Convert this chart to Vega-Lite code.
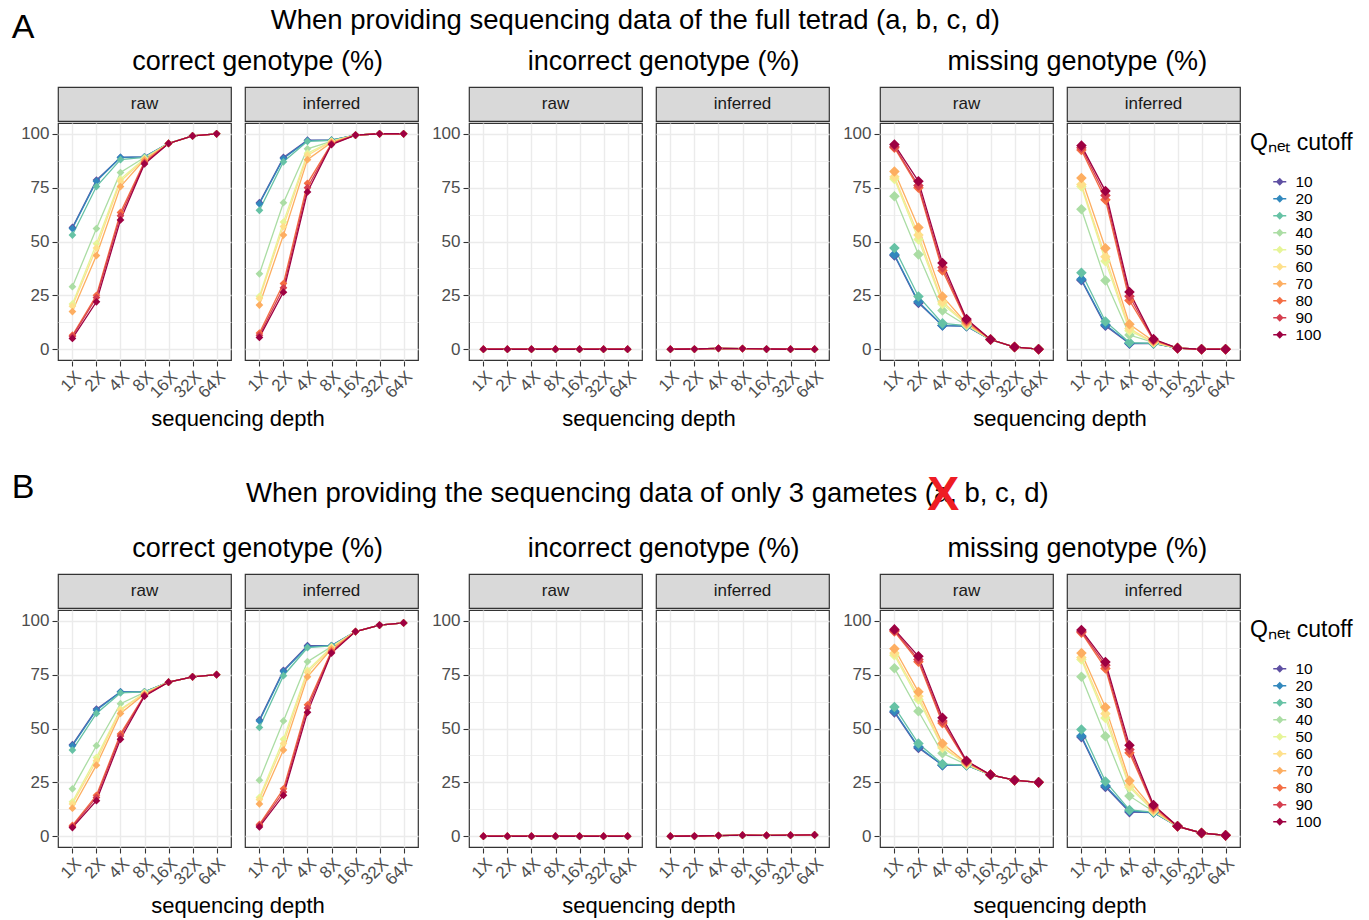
{"$schema":"https://vega.github.io/schema/vega-lite/v6.json","background":"white","padding":{"left":11,"top":6,"right":2,"bottom":2},"spacing":40,
"resolve":{"scale":{"color":"independent","stroke":"independent"},"legend":{"color":"independent","stroke":"independent"}},
"config":{"font":"Liberation Sans","view":{"stroke":null},"title":{"fontWeight":"normal","color":"#000000","font":"Liberation Sans"},"axis":{"labelColor":"#4D4D4D","labelFontSize":17,"tickColor":"#333333","tickWidth":1.1,"tickSize":5,"domain":false,"gridColor":"#EBEBEB","labelOverlap":false,"labelBound":false,"labelFlush":false},"legend":{"titleFontWeight":"normal"}},
"datasets":{"pts":[
{"p":"Acr","q":10,"d":1,"v":56.5},{"p":"Acr","q":10,"d":2,"v":78.5},{"p":"Acr","q":10,"d":4,"v":89},{"p":"Acr","q":10,"d":8,"v":89.3},{"p":"Acr","q":10,"d":16,"v":95.5},{"p":"Acr","q":10,"d":32,"v":99},{"p":"Acr","q":10,"d":64,"v":100},
{"p":"Acr","q":20,"d":1,"v":56},{"p":"Acr","q":20,"d":2,"v":78},{"p":"Acr","q":20,"d":4,"v":89},{"p":"Acr","q":20,"d":8,"v":89.3},{"p":"Acr","q":20,"d":16,"v":95.5},{"p":"Acr","q":20,"d":32,"v":99},{"p":"Acr","q":20,"d":64,"v":100},
{"p":"Acr","q":30,"d":1,"v":53},{"p":"Acr","q":30,"d":2,"v":75.5},{"p":"Acr","q":30,"d":4,"v":88},{"p":"Acr","q":30,"d":8,"v":89},{"p":"Acr","q":30,"d":16,"v":95.5},{"p":"Acr","q":30,"d":32,"v":99},{"p":"Acr","q":30,"d":64,"v":100},
{"p":"Acr","q":40,"d":1,"v":29},{"p":"Acr","q":40,"d":2,"v":56},{"p":"Acr","q":40,"d":4,"v":82},{"p":"Acr","q":40,"d":8,"v":89},{"p":"Acr","q":40,"d":16,"v":95.5},{"p":"Acr","q":40,"d":32,"v":99},{"p":"Acr","q":40,"d":64,"v":100},
{"p":"Acr","q":50,"d":1,"v":21},{"p":"Acr","q":50,"d":2,"v":49},{"p":"Acr","q":50,"d":4,"v":79},{"p":"Acr","q":50,"d":8,"v":88.5},{"p":"Acr","q":50,"d":16,"v":95.5},{"p":"Acr","q":50,"d":32,"v":99},{"p":"Acr","q":50,"d":64,"v":100},
{"p":"Acr","q":60,"d":1,"v":20},{"p":"Acr","q":60,"d":2,"v":47},{"p":"Acr","q":60,"d":4,"v":78},{"p":"Acr","q":60,"d":8,"v":88},{"p":"Acr","q":60,"d":16,"v":95.5},{"p":"Acr","q":60,"d":32,"v":99},{"p":"Acr","q":60,"d":64,"v":100},
{"p":"Acr","q":70,"d":1,"v":17.5},{"p":"Acr","q":70,"d":2,"v":43.5},{"p":"Acr","q":70,"d":4,"v":75.5},{"p":"Acr","q":70,"d":8,"v":88},{"p":"Acr","q":70,"d":16,"v":95.5},{"p":"Acr","q":70,"d":32,"v":99},{"p":"Acr","q":70,"d":64,"v":100},
{"p":"Acr","q":80,"d":1,"v":6.5},{"p":"Acr","q":80,"d":2,"v":25},{"p":"Acr","q":80,"d":4,"v":63.5},{"p":"Acr","q":80,"d":8,"v":87},{"p":"Acr","q":80,"d":16,"v":95.5},{"p":"Acr","q":80,"d":32,"v":99},{"p":"Acr","q":80,"d":64,"v":100},
{"p":"Acr","q":90,"d":1,"v":6},{"p":"Acr","q":90,"d":2,"v":24},{"p":"Acr","q":90,"d":4,"v":62},{"p":"Acr","q":90,"d":8,"v":86.5},{"p":"Acr","q":90,"d":16,"v":95.5},{"p":"Acr","q":90,"d":32,"v":99},{"p":"Acr","q":90,"d":64,"v":100},
{"p":"Acr","q":100,"d":1,"v":5},{"p":"Acr","q":100,"d":2,"v":22},{"p":"Acr","q":100,"d":4,"v":60},{"p":"Acr","q":100,"d":8,"v":86},{"p":"Acr","q":100,"d":16,"v":95.5},{"p":"Acr","q":100,"d":32,"v":99},{"p":"Acr","q":100,"d":64,"v":100},
{"p":"Aci","q":10,"d":1,"v":68},{"p":"Aci","q":10,"d":2,"v":89},{"p":"Aci","q":10,"d":4,"v":97},{"p":"Aci","q":10,"d":8,"v":97},{"p":"Aci","q":10,"d":16,"v":99.4},{"p":"Aci","q":10,"d":32,"v":100},{"p":"Aci","q":10,"d":64,"v":100},
{"p":"Aci","q":20,"d":1,"v":67.5},{"p":"Aci","q":20,"d":2,"v":88.5},{"p":"Aci","q":20,"d":4,"v":96.8},{"p":"Aci","q":20,"d":8,"v":97},{"p":"Aci","q":20,"d":16,"v":99.4},{"p":"Aci","q":20,"d":32,"v":100},{"p":"Aci","q":20,"d":64,"v":100},
{"p":"Aci","q":30,"d":1,"v":64.5},{"p":"Aci","q":30,"d":2,"v":87},{"p":"Aci","q":30,"d":4,"v":96.5},{"p":"Aci","q":30,"d":8,"v":97},{"p":"Aci","q":30,"d":16,"v":99.4},{"p":"Aci","q":30,"d":32,"v":100},{"p":"Aci","q":30,"d":64,"v":100},
{"p":"Aci","q":40,"d":1,"v":35},{"p":"Aci","q":40,"d":2,"v":68},{"p":"Aci","q":40,"d":4,"v":93},{"p":"Aci","q":40,"d":8,"v":96.5},{"p":"Aci","q":40,"d":16,"v":99.4},{"p":"Aci","q":40,"d":32,"v":100},{"p":"Aci","q":40,"d":64,"v":100},
{"p":"Aci","q":50,"d":1,"v":24.5},{"p":"Aci","q":50,"d":2,"v":59},{"p":"Aci","q":50,"d":4,"v":91},{"p":"Aci","q":50,"d":8,"v":96.5},{"p":"Aci","q":50,"d":16,"v":99.4},{"p":"Aci","q":50,"d":32,"v":100},{"p":"Aci","q":50,"d":64,"v":100},
{"p":"Aci","q":60,"d":1,"v":23.5},{"p":"Aci","q":60,"d":2,"v":57},{"p":"Aci","q":60,"d":4,"v":90},{"p":"Aci","q":60,"d":8,"v":96.5},{"p":"Aci","q":60,"d":16,"v":99.4},{"p":"Aci","q":60,"d":32,"v":100},{"p":"Aci","q":60,"d":64,"v":100},
{"p":"Aci","q":70,"d":1,"v":20.5},{"p":"Aci","q":70,"d":2,"v":53},{"p":"Aci","q":70,"d":4,"v":88},{"p":"Aci","q":70,"d":8,"v":96},{"p":"Aci","q":70,"d":16,"v":99.4},{"p":"Aci","q":70,"d":32,"v":100},{"p":"Aci","q":70,"d":64,"v":100},
{"p":"Aci","q":80,"d":1,"v":7.5},{"p":"Aci","q":80,"d":2,"v":30.5},{"p":"Aci","q":80,"d":4,"v":77},{"p":"Aci","q":80,"d":8,"v":95.5},{"p":"Aci","q":80,"d":16,"v":99.4},{"p":"Aci","q":80,"d":32,"v":100},{"p":"Aci","q":80,"d":64,"v":100},
{"p":"Aci","q":90,"d":1,"v":6.5},{"p":"Aci","q":90,"d":2,"v":28.5},{"p":"Aci","q":90,"d":4,"v":75},{"p":"Aci","q":90,"d":8,"v":95.3},{"p":"Aci","q":90,"d":16,"v":99.4},{"p":"Aci","q":90,"d":32,"v":100},{"p":"Aci","q":90,"d":64,"v":100},
{"p":"Aci","q":100,"d":1,"v":5.5},{"p":"Aci","q":100,"d":2,"v":26.5},{"p":"Aci","q":100,"d":4,"v":73},{"p":"Aci","q":100,"d":8,"v":95},{"p":"Aci","q":100,"d":16,"v":99.4},{"p":"Aci","q":100,"d":32,"v":100},{"p":"Aci","q":100,"d":64,"v":100},
{"p":"Air","q":10,"d":1,"v":0},{"p":"Air","q":10,"d":2,"v":0},{"p":"Air","q":10,"d":4,"v":0},{"p":"Air","q":10,"d":8,"v":0},{"p":"Air","q":10,"d":16,"v":0},{"p":"Air","q":10,"d":32,"v":0},{"p":"Air","q":10,"d":64,"v":0},
{"p":"Air","q":20,"d":1,"v":0},{"p":"Air","q":20,"d":2,"v":0},{"p":"Air","q":20,"d":4,"v":0},{"p":"Air","q":20,"d":8,"v":0},{"p":"Air","q":20,"d":16,"v":0},{"p":"Air","q":20,"d":32,"v":0},{"p":"Air","q":20,"d":64,"v":0},
{"p":"Air","q":30,"d":1,"v":0},{"p":"Air","q":30,"d":2,"v":0},{"p":"Air","q":30,"d":4,"v":0},{"p":"Air","q":30,"d":8,"v":0},{"p":"Air","q":30,"d":16,"v":0},{"p":"Air","q":30,"d":32,"v":0},{"p":"Air","q":30,"d":64,"v":0},
{"p":"Air","q":40,"d":1,"v":0},{"p":"Air","q":40,"d":2,"v":0},{"p":"Air","q":40,"d":4,"v":0},{"p":"Air","q":40,"d":8,"v":0},{"p":"Air","q":40,"d":16,"v":0},{"p":"Air","q":40,"d":32,"v":0},{"p":"Air","q":40,"d":64,"v":0},
{"p":"Air","q":50,"d":1,"v":0},{"p":"Air","q":50,"d":2,"v":0},{"p":"Air","q":50,"d":4,"v":0},{"p":"Air","q":50,"d":8,"v":0},{"p":"Air","q":50,"d":16,"v":0},{"p":"Air","q":50,"d":32,"v":0},{"p":"Air","q":50,"d":64,"v":0},
{"p":"Air","q":60,"d":1,"v":0},{"p":"Air","q":60,"d":2,"v":0},{"p":"Air","q":60,"d":4,"v":0},{"p":"Air","q":60,"d":8,"v":0},{"p":"Air","q":60,"d":16,"v":0},{"p":"Air","q":60,"d":32,"v":0},{"p":"Air","q":60,"d":64,"v":0},
{"p":"Air","q":70,"d":1,"v":0},{"p":"Air","q":70,"d":2,"v":0},{"p":"Air","q":70,"d":4,"v":0},{"p":"Air","q":70,"d":8,"v":0},{"p":"Air","q":70,"d":16,"v":0},{"p":"Air","q":70,"d":32,"v":0},{"p":"Air","q":70,"d":64,"v":0},
{"p":"Air","q":80,"d":1,"v":0},{"p":"Air","q":80,"d":2,"v":0},{"p":"Air","q":80,"d":4,"v":0},{"p":"Air","q":80,"d":8,"v":0},{"p":"Air","q":80,"d":16,"v":0},{"p":"Air","q":80,"d":32,"v":0},{"p":"Air","q":80,"d":64,"v":0},
{"p":"Air","q":90,"d":1,"v":0},{"p":"Air","q":90,"d":2,"v":0},{"p":"Air","q":90,"d":4,"v":0},{"p":"Air","q":90,"d":8,"v":0},{"p":"Air","q":90,"d":16,"v":0},{"p":"Air","q":90,"d":32,"v":0},{"p":"Air","q":90,"d":64,"v":0},
{"p":"Air","q":100,"d":1,"v":0},{"p":"Air","q":100,"d":2,"v":0},{"p":"Air","q":100,"d":4,"v":0},{"p":"Air","q":100,"d":8,"v":0},{"p":"Air","q":100,"d":16,"v":0},{"p":"Air","q":100,"d":32,"v":0},{"p":"Air","q":100,"d":64,"v":0},
{"p":"Aii","q":10,"d":1,"v":0},{"p":"Aii","q":10,"d":2,"v":0.1},{"p":"Aii","q":10,"d":4,"v":0.4},{"p":"Aii","q":10,"d":8,"v":0.3},{"p":"Aii","q":10,"d":16,"v":0.1},{"p":"Aii","q":10,"d":32,"v":0},{"p":"Aii","q":10,"d":64,"v":0},
{"p":"Aii","q":20,"d":1,"v":0},{"p":"Aii","q":20,"d":2,"v":0.1},{"p":"Aii","q":20,"d":4,"v":0.4},{"p":"Aii","q":20,"d":8,"v":0.3},{"p":"Aii","q":20,"d":16,"v":0.1},{"p":"Aii","q":20,"d":32,"v":0},{"p":"Aii","q":20,"d":64,"v":0},
{"p":"Aii","q":30,"d":1,"v":0},{"p":"Aii","q":30,"d":2,"v":0.1},{"p":"Aii","q":30,"d":4,"v":0.4},{"p":"Aii","q":30,"d":8,"v":0.3},{"p":"Aii","q":30,"d":16,"v":0.1},{"p":"Aii","q":30,"d":32,"v":0},{"p":"Aii","q":30,"d":64,"v":0},
{"p":"Aii","q":40,"d":1,"v":0},{"p":"Aii","q":40,"d":2,"v":0.1},{"p":"Aii","q":40,"d":4,"v":0.4},{"p":"Aii","q":40,"d":8,"v":0.3},{"p":"Aii","q":40,"d":16,"v":0.1},{"p":"Aii","q":40,"d":32,"v":0},{"p":"Aii","q":40,"d":64,"v":0},
{"p":"Aii","q":50,"d":1,"v":0},{"p":"Aii","q":50,"d":2,"v":0.1},{"p":"Aii","q":50,"d":4,"v":0.4},{"p":"Aii","q":50,"d":8,"v":0.3},{"p":"Aii","q":50,"d":16,"v":0.1},{"p":"Aii","q":50,"d":32,"v":0},{"p":"Aii","q":50,"d":64,"v":0},
{"p":"Aii","q":60,"d":1,"v":0},{"p":"Aii","q":60,"d":2,"v":0.1},{"p":"Aii","q":60,"d":4,"v":0.4},{"p":"Aii","q":60,"d":8,"v":0.3},{"p":"Aii","q":60,"d":16,"v":0.1},{"p":"Aii","q":60,"d":32,"v":0},{"p":"Aii","q":60,"d":64,"v":0},
{"p":"Aii","q":70,"d":1,"v":0},{"p":"Aii","q":70,"d":2,"v":0.1},{"p":"Aii","q":70,"d":4,"v":0.4},{"p":"Aii","q":70,"d":8,"v":0.3},{"p":"Aii","q":70,"d":16,"v":0.1},{"p":"Aii","q":70,"d":32,"v":0},{"p":"Aii","q":70,"d":64,"v":0},
{"p":"Aii","q":80,"d":1,"v":0},{"p":"Aii","q":80,"d":2,"v":0.1},{"p":"Aii","q":80,"d":4,"v":0.4},{"p":"Aii","q":80,"d":8,"v":0.3},{"p":"Aii","q":80,"d":16,"v":0.1},{"p":"Aii","q":80,"d":32,"v":0},{"p":"Aii","q":80,"d":64,"v":0},
{"p":"Aii","q":90,"d":1,"v":0},{"p":"Aii","q":90,"d":2,"v":0.1},{"p":"Aii","q":90,"d":4,"v":0.4},{"p":"Aii","q":90,"d":8,"v":0.3},{"p":"Aii","q":90,"d":16,"v":0.1},{"p":"Aii","q":90,"d":32,"v":0},{"p":"Aii","q":90,"d":64,"v":0},
{"p":"Aii","q":100,"d":1,"v":0},{"p":"Aii","q":100,"d":2,"v":0.1},{"p":"Aii","q":100,"d":4,"v":0.4},{"p":"Aii","q":100,"d":8,"v":0.3},{"p":"Aii","q":100,"d":16,"v":0.1},{"p":"Aii","q":100,"d":32,"v":0},{"p":"Aii","q":100,"d":64,"v":0},
{"p":"Amr","q":10,"d":1,"v":43.5},{"p":"Amr","q":10,"d":2,"v":21.5},{"p":"Amr","q":10,"d":4,"v":11},{"p":"Amr","q":10,"d":8,"v":10.7},{"p":"Amr","q":10,"d":16,"v":4.5},{"p":"Amr","q":10,"d":32,"v":1},{"p":"Amr","q":10,"d":64,"v":0},
{"p":"Amr","q":20,"d":1,"v":44},{"p":"Amr","q":20,"d":2,"v":22},{"p":"Amr","q":20,"d":4,"v":11},{"p":"Amr","q":20,"d":8,"v":10.7},{"p":"Amr","q":20,"d":16,"v":4.5},{"p":"Amr","q":20,"d":32,"v":1},{"p":"Amr","q":20,"d":64,"v":0},
{"p":"Amr","q":30,"d":1,"v":47},{"p":"Amr","q":30,"d":2,"v":24.5},{"p":"Amr","q":30,"d":4,"v":12},{"p":"Amr","q":30,"d":8,"v":11},{"p":"Amr","q":30,"d":16,"v":4.5},{"p":"Amr","q":30,"d":32,"v":1},{"p":"Amr","q":30,"d":64,"v":0},
{"p":"Amr","q":40,"d":1,"v":71},{"p":"Amr","q":40,"d":2,"v":44},{"p":"Amr","q":40,"d":4,"v":18},{"p":"Amr","q":40,"d":8,"v":11},{"p":"Amr","q":40,"d":16,"v":4.5},{"p":"Amr","q":40,"d":32,"v":1},{"p":"Amr","q":40,"d":64,"v":0},
{"p":"Amr","q":50,"d":1,"v":79},{"p":"Amr","q":50,"d":2,"v":51},{"p":"Amr","q":50,"d":4,"v":21},{"p":"Amr","q":50,"d":8,"v":11.5},{"p":"Amr","q":50,"d":16,"v":4.5},{"p":"Amr","q":50,"d":32,"v":1},{"p":"Amr","q":50,"d":64,"v":0},
{"p":"Amr","q":60,"d":1,"v":80},{"p":"Amr","q":60,"d":2,"v":53},{"p":"Amr","q":60,"d":4,"v":22},{"p":"Amr","q":60,"d":8,"v":12},{"p":"Amr","q":60,"d":16,"v":4.5},{"p":"Amr","q":60,"d":32,"v":1},{"p":"Amr","q":60,"d":64,"v":0},
{"p":"Amr","q":70,"d":1,"v":82.5},{"p":"Amr","q":70,"d":2,"v":56.5},{"p":"Amr","q":70,"d":4,"v":24.5},{"p":"Amr","q":70,"d":8,"v":12},{"p":"Amr","q":70,"d":16,"v":4.5},{"p":"Amr","q":70,"d":32,"v":1},{"p":"Amr","q":70,"d":64,"v":0},
{"p":"Amr","q":80,"d":1,"v":93.5},{"p":"Amr","q":80,"d":2,"v":75},{"p":"Amr","q":80,"d":4,"v":36.5},{"p":"Amr","q":80,"d":8,"v":13},{"p":"Amr","q":80,"d":16,"v":4.5},{"p":"Amr","q":80,"d":32,"v":1},{"p":"Amr","q":80,"d":64,"v":0},
{"p":"Amr","q":90,"d":1,"v":94},{"p":"Amr","q":90,"d":2,"v":76},{"p":"Amr","q":90,"d":4,"v":38},{"p":"Amr","q":90,"d":8,"v":13.5},{"p":"Amr","q":90,"d":16,"v":4.5},{"p":"Amr","q":90,"d":32,"v":1},{"p":"Amr","q":90,"d":64,"v":0},
{"p":"Amr","q":100,"d":1,"v":95},{"p":"Amr","q":100,"d":2,"v":78},{"p":"Amr","q":100,"d":4,"v":40},{"p":"Amr","q":100,"d":8,"v":14},{"p":"Amr","q":100,"d":16,"v":4.5},{"p":"Amr","q":100,"d":32,"v":1},{"p":"Amr","q":100,"d":64,"v":0},
{"p":"Ami","q":10,"d":1,"v":32},{"p":"Ami","q":10,"d":2,"v":10.9},{"p":"Ami","q":10,"d":4,"v":2.6},{"p":"Ami","q":10,"d":8,"v":2.7},{"p":"Ami","q":10,"d":16,"v":0.5},{"p":"Ami","q":10,"d":32,"v":0},{"p":"Ami","q":10,"d":64,"v":0},
{"p":"Ami","q":20,"d":1,"v":32.5},{"p":"Ami","q":20,"d":2,"v":11.4},{"p":"Ami","q":20,"d":4,"v":2.8},{"p":"Ami","q":20,"d":8,"v":2.7},{"p":"Ami","q":20,"d":16,"v":0.5},{"p":"Ami","q":20,"d":32,"v":0},{"p":"Ami","q":20,"d":64,"v":0},
{"p":"Ami","q":30,"d":1,"v":35.5},{"p":"Ami","q":30,"d":2,"v":12.9},{"p":"Ami","q":30,"d":4,"v":3.1},{"p":"Ami","q":30,"d":8,"v":2.7},{"p":"Ami","q":30,"d":16,"v":0.5},{"p":"Ami","q":30,"d":32,"v":0},{"p":"Ami","q":30,"d":64,"v":0},
{"p":"Ami","q":40,"d":1,"v":65},{"p":"Ami","q":40,"d":2,"v":31.9},{"p":"Ami","q":40,"d":4,"v":6.6},{"p":"Ami","q":40,"d":8,"v":3.2},{"p":"Ami","q":40,"d":16,"v":0.5},{"p":"Ami","q":40,"d":32,"v":0},{"p":"Ami","q":40,"d":64,"v":0},
{"p":"Ami","q":50,"d":1,"v":75.5},{"p":"Ami","q":50,"d":2,"v":40.9},{"p":"Ami","q":50,"d":4,"v":8.6},{"p":"Ami","q":50,"d":8,"v":3.2},{"p":"Ami","q":50,"d":16,"v":0.5},{"p":"Ami","q":50,"d":32,"v":0},{"p":"Ami","q":50,"d":64,"v":0},
{"p":"Ami","q":60,"d":1,"v":76.5},{"p":"Ami","q":60,"d":2,"v":42.9},{"p":"Ami","q":60,"d":4,"v":9.6},{"p":"Ami","q":60,"d":8,"v":3.2},{"p":"Ami","q":60,"d":16,"v":0.5},{"p":"Ami","q":60,"d":32,"v":0},{"p":"Ami","q":60,"d":64,"v":0},
{"p":"Ami","q":70,"d":1,"v":79.5},{"p":"Ami","q":70,"d":2,"v":46.9},{"p":"Ami","q":70,"d":4,"v":11.6},{"p":"Ami","q":70,"d":8,"v":3.7},{"p":"Ami","q":70,"d":16,"v":0.5},{"p":"Ami","q":70,"d":32,"v":0},{"p":"Ami","q":70,"d":64,"v":0},
{"p":"Ami","q":80,"d":1,"v":92.5},{"p":"Ami","q":80,"d":2,"v":69.4},{"p":"Ami","q":80,"d":4,"v":22.6},{"p":"Ami","q":80,"d":8,"v":4.2},{"p":"Ami","q":80,"d":16,"v":0.5},{"p":"Ami","q":80,"d":32,"v":0},{"p":"Ami","q":80,"d":64,"v":0},
{"p":"Ami","q":90,"d":1,"v":93.5},{"p":"Ami","q":90,"d":2,"v":71.4},{"p":"Ami","q":90,"d":4,"v":24.6},{"p":"Ami","q":90,"d":8,"v":4.4},{"p":"Ami","q":90,"d":16,"v":0.5},{"p":"Ami","q":90,"d":32,"v":0},{"p":"Ami","q":90,"d":64,"v":0},
{"p":"Ami","q":100,"d":1,"v":94.5},{"p":"Ami","q":100,"d":2,"v":73.4},{"p":"Ami","q":100,"d":4,"v":26.6},{"p":"Ami","q":100,"d":8,"v":4.7},{"p":"Ami","q":100,"d":16,"v":0.5},{"p":"Ami","q":100,"d":32,"v":0},{"p":"Ami","q":100,"d":64,"v":0},
{"p":"Bcr","q":10,"d":1,"v":42.5},{"p":"Bcr","q":10,"d":2,"v":59},{"p":"Bcr","q":10,"d":4,"v":67},{"p":"Bcr","q":10,"d":8,"v":67},{"p":"Bcr","q":10,"d":16,"v":71.5},{"p":"Bcr","q":10,"d":32,"v":74},{"p":"Bcr","q":10,"d":64,"v":75},
{"p":"Bcr","q":20,"d":1,"v":42},{"p":"Bcr","q":20,"d":2,"v":58.5},{"p":"Bcr","q":20,"d":4,"v":67},{"p":"Bcr","q":20,"d":8,"v":67},{"p":"Bcr","q":20,"d":16,"v":71.5},{"p":"Bcr","q":20,"d":32,"v":74},{"p":"Bcr","q":20,"d":64,"v":75},
{"p":"Bcr","q":30,"d":1,"v":40},{"p":"Bcr","q":30,"d":2,"v":57},{"p":"Bcr","q":30,"d":4,"v":66.5},{"p":"Bcr","q":30,"d":8,"v":67},{"p":"Bcr","q":30,"d":16,"v":71.5},{"p":"Bcr","q":30,"d":32,"v":74},{"p":"Bcr","q":30,"d":64,"v":75},
{"p":"Bcr","q":40,"d":1,"v":22},{"p":"Bcr","q":40,"d":2,"v":42},{"p":"Bcr","q":40,"d":4,"v":61.5},{"p":"Bcr","q":40,"d":8,"v":66.8},{"p":"Bcr","q":40,"d":16,"v":71.5},{"p":"Bcr","q":40,"d":32,"v":74},{"p":"Bcr","q":40,"d":64,"v":75},
{"p":"Bcr","q":50,"d":1,"v":16},{"p":"Bcr","q":50,"d":2,"v":36.5},{"p":"Bcr","q":50,"d":4,"v":59},{"p":"Bcr","q":50,"d":8,"v":66.5},{"p":"Bcr","q":50,"d":16,"v":71.5},{"p":"Bcr","q":50,"d":32,"v":74},{"p":"Bcr","q":50,"d":64,"v":75},
{"p":"Bcr","q":60,"d":1,"v":15},{"p":"Bcr","q":60,"d":2,"v":35},{"p":"Bcr","q":60,"d":4,"v":58.5},{"p":"Bcr","q":60,"d":8,"v":66.3},{"p":"Bcr","q":60,"d":16,"v":71.5},{"p":"Bcr","q":60,"d":32,"v":74},{"p":"Bcr","q":60,"d":64,"v":75},
{"p":"Bcr","q":70,"d":1,"v":13},{"p":"Bcr","q":70,"d":2,"v":33},{"p":"Bcr","q":70,"d":4,"v":57},{"p":"Bcr","q":70,"d":8,"v":66},{"p":"Bcr","q":70,"d":16,"v":71.5},{"p":"Bcr","q":70,"d":32,"v":74},{"p":"Bcr","q":70,"d":64,"v":75},
{"p":"Bcr","q":80,"d":1,"v":5},{"p":"Bcr","q":80,"d":2,"v":19},{"p":"Bcr","q":80,"d":4,"v":47.5},{"p":"Bcr","q":80,"d":8,"v":65.5},{"p":"Bcr","q":80,"d":16,"v":71.5},{"p":"Bcr","q":80,"d":32,"v":74},{"p":"Bcr","q":80,"d":64,"v":75},
{"p":"Bcr","q":90,"d":1,"v":4.5},{"p":"Bcr","q":90,"d":2,"v":18},{"p":"Bcr","q":90,"d":4,"v":46.5},{"p":"Bcr","q":90,"d":8,"v":65.3},{"p":"Bcr","q":90,"d":16,"v":71.5},{"p":"Bcr","q":90,"d":32,"v":74},{"p":"Bcr","q":90,"d":64,"v":75},
{"p":"Bcr","q":100,"d":1,"v":4},{"p":"Bcr","q":100,"d":2,"v":16.5},{"p":"Bcr","q":100,"d":4,"v":45},{"p":"Bcr","q":100,"d":8,"v":65},{"p":"Bcr","q":100,"d":16,"v":71.5},{"p":"Bcr","q":100,"d":32,"v":74},{"p":"Bcr","q":100,"d":64,"v":75},
{"p":"Bci","q":10,"d":1,"v":54},{"p":"Bci","q":10,"d":2,"v":77},{"p":"Bci","q":10,"d":4,"v":88.5},{"p":"Bci","q":10,"d":8,"v":88.5},{"p":"Bci","q":10,"d":16,"v":95},{"p":"Bci","q":10,"d":32,"v":98},{"p":"Bci","q":10,"d":64,"v":99},
{"p":"Bci","q":20,"d":1,"v":53.5},{"p":"Bci","q":20,"d":2,"v":76.5},{"p":"Bci","q":20,"d":4,"v":88},{"p":"Bci","q":20,"d":8,"v":88.5},{"p":"Bci","q":20,"d":16,"v":95},{"p":"Bci","q":20,"d":32,"v":98},{"p":"Bci","q":20,"d":64,"v":99},
{"p":"Bci","q":30,"d":1,"v":50.5},{"p":"Bci","q":30,"d":2,"v":74.5},{"p":"Bci","q":30,"d":4,"v":87.5},{"p":"Bci","q":30,"d":8,"v":88.3},{"p":"Bci","q":30,"d":16,"v":95},{"p":"Bci","q":30,"d":32,"v":98},{"p":"Bci","q":30,"d":64,"v":99},
{"p":"Bci","q":40,"d":1,"v":26},{"p":"Bci","q":40,"d":2,"v":53.5},{"p":"Bci","q":40,"d":4,"v":81},{"p":"Bci","q":40,"d":8,"v":88},{"p":"Bci","q":40,"d":16,"v":95},{"p":"Bci","q":40,"d":32,"v":98},{"p":"Bci","q":40,"d":64,"v":99},
{"p":"Bci","q":50,"d":1,"v":18},{"p":"Bci","q":50,"d":2,"v":45},{"p":"Bci","q":50,"d":4,"v":77},{"p":"Bci","q":50,"d":8,"v":87.8},{"p":"Bci","q":50,"d":16,"v":95},{"p":"Bci","q":50,"d":32,"v":98},{"p":"Bci","q":50,"d":64,"v":99},
{"p":"Bci","q":60,"d":1,"v":17},{"p":"Bci","q":60,"d":2,"v":43},{"p":"Bci","q":60,"d":4,"v":76},{"p":"Bci","q":60,"d":8,"v":87.5},{"p":"Bci","q":60,"d":16,"v":95},{"p":"Bci","q":60,"d":32,"v":98},{"p":"Bci","q":60,"d":64,"v":99},
{"p":"Bci","q":70,"d":1,"v":15},{"p":"Bci","q":70,"d":2,"v":40},{"p":"Bci","q":70,"d":4,"v":74},{"p":"Bci","q":70,"d":8,"v":87},{"p":"Bci","q":70,"d":16,"v":95},{"p":"Bci","q":70,"d":32,"v":98},{"p":"Bci","q":70,"d":64,"v":99},
{"p":"Bci","q":80,"d":1,"v":5.5},{"p":"Bci","q":80,"d":2,"v":22},{"p":"Bci","q":80,"d":4,"v":61},{"p":"Bci","q":80,"d":8,"v":86},{"p":"Bci","q":80,"d":16,"v":95},{"p":"Bci","q":80,"d":32,"v":98},{"p":"Bci","q":80,"d":64,"v":99},
{"p":"Bci","q":90,"d":1,"v":5},{"p":"Bci","q":90,"d":2,"v":20.5},{"p":"Bci","q":90,"d":4,"v":59.5},{"p":"Bci","q":90,"d":8,"v":85.5},{"p":"Bci","q":90,"d":16,"v":95},{"p":"Bci","q":90,"d":32,"v":98},{"p":"Bci","q":90,"d":64,"v":99},
{"p":"Bci","q":100,"d":1,"v":4.3},{"p":"Bci","q":100,"d":2,"v":19},{"p":"Bci","q":100,"d":4,"v":57.5},{"p":"Bci","q":100,"d":8,"v":85},{"p":"Bci","q":100,"d":16,"v":95},{"p":"Bci","q":100,"d":32,"v":98},{"p":"Bci","q":100,"d":64,"v":99},
{"p":"Bir","q":10,"d":1,"v":0},{"p":"Bir","q":10,"d":2,"v":0},{"p":"Bir","q":10,"d":4,"v":0},{"p":"Bir","q":10,"d":8,"v":0},{"p":"Bir","q":10,"d":16,"v":0},{"p":"Bir","q":10,"d":32,"v":0},{"p":"Bir","q":10,"d":64,"v":0},
{"p":"Bir","q":20,"d":1,"v":0},{"p":"Bir","q":20,"d":2,"v":0},{"p":"Bir","q":20,"d":4,"v":0},{"p":"Bir","q":20,"d":8,"v":0},{"p":"Bir","q":20,"d":16,"v":0},{"p":"Bir","q":20,"d":32,"v":0},{"p":"Bir","q":20,"d":64,"v":0},
{"p":"Bir","q":30,"d":1,"v":0},{"p":"Bir","q":30,"d":2,"v":0},{"p":"Bir","q":30,"d":4,"v":0},{"p":"Bir","q":30,"d":8,"v":0},{"p":"Bir","q":30,"d":16,"v":0},{"p":"Bir","q":30,"d":32,"v":0},{"p":"Bir","q":30,"d":64,"v":0},
{"p":"Bir","q":40,"d":1,"v":0},{"p":"Bir","q":40,"d":2,"v":0},{"p":"Bir","q":40,"d":4,"v":0},{"p":"Bir","q":40,"d":8,"v":0},{"p":"Bir","q":40,"d":16,"v":0},{"p":"Bir","q":40,"d":32,"v":0},{"p":"Bir","q":40,"d":64,"v":0},
{"p":"Bir","q":50,"d":1,"v":0},{"p":"Bir","q":50,"d":2,"v":0},{"p":"Bir","q":50,"d":4,"v":0},{"p":"Bir","q":50,"d":8,"v":0},{"p":"Bir","q":50,"d":16,"v":0},{"p":"Bir","q":50,"d":32,"v":0},{"p":"Bir","q":50,"d":64,"v":0},
{"p":"Bir","q":60,"d":1,"v":0},{"p":"Bir","q":60,"d":2,"v":0},{"p":"Bir","q":60,"d":4,"v":0},{"p":"Bir","q":60,"d":8,"v":0},{"p":"Bir","q":60,"d":16,"v":0},{"p":"Bir","q":60,"d":32,"v":0},{"p":"Bir","q":60,"d":64,"v":0},
{"p":"Bir","q":70,"d":1,"v":0},{"p":"Bir","q":70,"d":2,"v":0},{"p":"Bir","q":70,"d":4,"v":0},{"p":"Bir","q":70,"d":8,"v":0},{"p":"Bir","q":70,"d":16,"v":0},{"p":"Bir","q":70,"d":32,"v":0},{"p":"Bir","q":70,"d":64,"v":0},
{"p":"Bir","q":80,"d":1,"v":0},{"p":"Bir","q":80,"d":2,"v":0},{"p":"Bir","q":80,"d":4,"v":0},{"p":"Bir","q":80,"d":8,"v":0},{"p":"Bir","q":80,"d":16,"v":0},{"p":"Bir","q":80,"d":32,"v":0},{"p":"Bir","q":80,"d":64,"v":0},
{"p":"Bir","q":90,"d":1,"v":0},{"p":"Bir","q":90,"d":2,"v":0},{"p":"Bir","q":90,"d":4,"v":0},{"p":"Bir","q":90,"d":8,"v":0},{"p":"Bir","q":90,"d":16,"v":0},{"p":"Bir","q":90,"d":32,"v":0},{"p":"Bir","q":90,"d":64,"v":0},
{"p":"Bir","q":100,"d":1,"v":0},{"p":"Bir","q":100,"d":2,"v":0},{"p":"Bir","q":100,"d":4,"v":0},{"p":"Bir","q":100,"d":8,"v":0},{"p":"Bir","q":100,"d":16,"v":0},{"p":"Bir","q":100,"d":32,"v":0},{"p":"Bir","q":100,"d":64,"v":0},
{"p":"Bii","q":10,"d":1,"v":0},{"p":"Bii","q":10,"d":2,"v":0.1},{"p":"Bii","q":10,"d":4,"v":0.3},{"p":"Bii","q":10,"d":8,"v":0.5},{"p":"Bii","q":10,"d":16,"v":0.4},{"p":"Bii","q":10,"d":32,"v":0.5},{"p":"Bii","q":10,"d":64,"v":0.6},
{"p":"Bii","q":20,"d":1,"v":0},{"p":"Bii","q":20,"d":2,"v":0.1},{"p":"Bii","q":20,"d":4,"v":0.3},{"p":"Bii","q":20,"d":8,"v":0.5},{"p":"Bii","q":20,"d":16,"v":0.4},{"p":"Bii","q":20,"d":32,"v":0.5},{"p":"Bii","q":20,"d":64,"v":0.6},
{"p":"Bii","q":30,"d":1,"v":0},{"p":"Bii","q":30,"d":2,"v":0.1},{"p":"Bii","q":30,"d":4,"v":0.3},{"p":"Bii","q":30,"d":8,"v":0.5},{"p":"Bii","q":30,"d":16,"v":0.4},{"p":"Bii","q":30,"d":32,"v":0.5},{"p":"Bii","q":30,"d":64,"v":0.6},
{"p":"Bii","q":40,"d":1,"v":0},{"p":"Bii","q":40,"d":2,"v":0.1},{"p":"Bii","q":40,"d":4,"v":0.3},{"p":"Bii","q":40,"d":8,"v":0.5},{"p":"Bii","q":40,"d":16,"v":0.4},{"p":"Bii","q":40,"d":32,"v":0.5},{"p":"Bii","q":40,"d":64,"v":0.6},
{"p":"Bii","q":50,"d":1,"v":0},{"p":"Bii","q":50,"d":2,"v":0.1},{"p":"Bii","q":50,"d":4,"v":0.3},{"p":"Bii","q":50,"d":8,"v":0.5},{"p":"Bii","q":50,"d":16,"v":0.4},{"p":"Bii","q":50,"d":32,"v":0.5},{"p":"Bii","q":50,"d":64,"v":0.6},
{"p":"Bii","q":60,"d":1,"v":0},{"p":"Bii","q":60,"d":2,"v":0.1},{"p":"Bii","q":60,"d":4,"v":0.3},{"p":"Bii","q":60,"d":8,"v":0.5},{"p":"Bii","q":60,"d":16,"v":0.4},{"p":"Bii","q":60,"d":32,"v":0.5},{"p":"Bii","q":60,"d":64,"v":0.6},
{"p":"Bii","q":70,"d":1,"v":0},{"p":"Bii","q":70,"d":2,"v":0.1},{"p":"Bii","q":70,"d":4,"v":0.3},{"p":"Bii","q":70,"d":8,"v":0.5},{"p":"Bii","q":70,"d":16,"v":0.4},{"p":"Bii","q":70,"d":32,"v":0.5},{"p":"Bii","q":70,"d":64,"v":0.6},
{"p":"Bii","q":80,"d":1,"v":0},{"p":"Bii","q":80,"d":2,"v":0.1},{"p":"Bii","q":80,"d":4,"v":0.3},{"p":"Bii","q":80,"d":8,"v":0.5},{"p":"Bii","q":80,"d":16,"v":0.4},{"p":"Bii","q":80,"d":32,"v":0.5},{"p":"Bii","q":80,"d":64,"v":0.6},
{"p":"Bii","q":90,"d":1,"v":0},{"p":"Bii","q":90,"d":2,"v":0.1},{"p":"Bii","q":90,"d":4,"v":0.3},{"p":"Bii","q":90,"d":8,"v":0.5},{"p":"Bii","q":90,"d":16,"v":0.4},{"p":"Bii","q":90,"d":32,"v":0.5},{"p":"Bii","q":90,"d":64,"v":0.6},
{"p":"Bii","q":100,"d":1,"v":0},{"p":"Bii","q":100,"d":2,"v":0.1},{"p":"Bii","q":100,"d":4,"v":0.3},{"p":"Bii","q":100,"d":8,"v":0.5},{"p":"Bii","q":100,"d":16,"v":0.4},{"p":"Bii","q":100,"d":32,"v":0.5},{"p":"Bii","q":100,"d":64,"v":0.6},
{"p":"Bmr","q":10,"d":1,"v":57.5},{"p":"Bmr","q":10,"d":2,"v":41},{"p":"Bmr","q":10,"d":4,"v":33},{"p":"Bmr","q":10,"d":8,"v":33},{"p":"Bmr","q":10,"d":16,"v":28.5},{"p":"Bmr","q":10,"d":32,"v":26},{"p":"Bmr","q":10,"d":64,"v":25},
{"p":"Bmr","q":20,"d":1,"v":58},{"p":"Bmr","q":20,"d":2,"v":41.5},{"p":"Bmr","q":20,"d":4,"v":33},{"p":"Bmr","q":20,"d":8,"v":33},{"p":"Bmr","q":20,"d":16,"v":28.5},{"p":"Bmr","q":20,"d":32,"v":26},{"p":"Bmr","q":20,"d":64,"v":25},
{"p":"Bmr","q":30,"d":1,"v":60},{"p":"Bmr","q":30,"d":2,"v":43},{"p":"Bmr","q":30,"d":4,"v":33.5},{"p":"Bmr","q":30,"d":8,"v":33},{"p":"Bmr","q":30,"d":16,"v":28.5},{"p":"Bmr","q":30,"d":32,"v":26},{"p":"Bmr","q":30,"d":64,"v":25},
{"p":"Bmr","q":40,"d":1,"v":78},{"p":"Bmr","q":40,"d":2,"v":58},{"p":"Bmr","q":40,"d":4,"v":38.5},{"p":"Bmr","q":40,"d":8,"v":33.2},{"p":"Bmr","q":40,"d":16,"v":28.5},{"p":"Bmr","q":40,"d":32,"v":26},{"p":"Bmr","q":40,"d":64,"v":25},
{"p":"Bmr","q":50,"d":1,"v":84},{"p":"Bmr","q":50,"d":2,"v":63.5},{"p":"Bmr","q":50,"d":4,"v":41},{"p":"Bmr","q":50,"d":8,"v":33.5},{"p":"Bmr","q":50,"d":16,"v":28.5},{"p":"Bmr","q":50,"d":32,"v":26},{"p":"Bmr","q":50,"d":64,"v":25},
{"p":"Bmr","q":60,"d":1,"v":85},{"p":"Bmr","q":60,"d":2,"v":65},{"p":"Bmr","q":60,"d":4,"v":41.5},{"p":"Bmr","q":60,"d":8,"v":33.7},{"p":"Bmr","q":60,"d":16,"v":28.5},{"p":"Bmr","q":60,"d":32,"v":26},{"p":"Bmr","q":60,"d":64,"v":25},
{"p":"Bmr","q":70,"d":1,"v":87},{"p":"Bmr","q":70,"d":2,"v":67},{"p":"Bmr","q":70,"d":4,"v":43},{"p":"Bmr","q":70,"d":8,"v":34},{"p":"Bmr","q":70,"d":16,"v":28.5},{"p":"Bmr","q":70,"d":32,"v":26},{"p":"Bmr","q":70,"d":64,"v":25},
{"p":"Bmr","q":80,"d":1,"v":95},{"p":"Bmr","q":80,"d":2,"v":81},{"p":"Bmr","q":80,"d":4,"v":52.5},{"p":"Bmr","q":80,"d":8,"v":34.5},{"p":"Bmr","q":80,"d":16,"v":28.5},{"p":"Bmr","q":80,"d":32,"v":26},{"p":"Bmr","q":80,"d":64,"v":25},
{"p":"Bmr","q":90,"d":1,"v":95.5},{"p":"Bmr","q":90,"d":2,"v":82},{"p":"Bmr","q":90,"d":4,"v":53.5},{"p":"Bmr","q":90,"d":8,"v":34.7},{"p":"Bmr","q":90,"d":16,"v":28.5},{"p":"Bmr","q":90,"d":32,"v":26},{"p":"Bmr","q":90,"d":64,"v":25},
{"p":"Bmr","q":100,"d":1,"v":96},{"p":"Bmr","q":100,"d":2,"v":83.5},{"p":"Bmr","q":100,"d":4,"v":55},{"p":"Bmr","q":100,"d":8,"v":35},{"p":"Bmr","q":100,"d":16,"v":28.5},{"p":"Bmr","q":100,"d":32,"v":26},{"p":"Bmr","q":100,"d":64,"v":25},
{"p":"Bmi","q":10,"d":1,"v":46},{"p":"Bmi","q":10,"d":2,"v":22.9},{"p":"Bmi","q":10,"d":4,"v":11.2},{"p":"Bmi","q":10,"d":8,"v":11},{"p":"Bmi","q":10,"d":16,"v":4.6},{"p":"Bmi","q":10,"d":32,"v":1.5},{"p":"Bmi","q":10,"d":64,"v":0.4},
{"p":"Bmi","q":20,"d":1,"v":46.5},{"p":"Bmi","q":20,"d":2,"v":23.4},{"p":"Bmi","q":20,"d":4,"v":11.7},{"p":"Bmi","q":20,"d":8,"v":11},{"p":"Bmi","q":20,"d":16,"v":4.6},{"p":"Bmi","q":20,"d":32,"v":1.5},{"p":"Bmi","q":20,"d":64,"v":0.4},
{"p":"Bmi","q":30,"d":1,"v":49.5},{"p":"Bmi","q":30,"d":2,"v":25.4},{"p":"Bmi","q":30,"d":4,"v":12.2},{"p":"Bmi","q":30,"d":8,"v":11.2},{"p":"Bmi","q":30,"d":16,"v":4.6},{"p":"Bmi","q":30,"d":32,"v":1.5},{"p":"Bmi","q":30,"d":64,"v":0.4},
{"p":"Bmi","q":40,"d":1,"v":74},{"p":"Bmi","q":40,"d":2,"v":46.4},{"p":"Bmi","q":40,"d":4,"v":18.7},{"p":"Bmi","q":40,"d":8,"v":11.5},{"p":"Bmi","q":40,"d":16,"v":4.6},{"p":"Bmi","q":40,"d":32,"v":1.5},{"p":"Bmi","q":40,"d":64,"v":0.4},
{"p":"Bmi","q":50,"d":1,"v":82},{"p":"Bmi","q":50,"d":2,"v":54.9},{"p":"Bmi","q":50,"d":4,"v":22.7},{"p":"Bmi","q":50,"d":8,"v":11.7},{"p":"Bmi","q":50,"d":16,"v":4.6},{"p":"Bmi","q":50,"d":32,"v":1.5},{"p":"Bmi","q":50,"d":64,"v":0.4},
{"p":"Bmi","q":60,"d":1,"v":83},{"p":"Bmi","q":60,"d":2,"v":56.9},{"p":"Bmi","q":60,"d":4,"v":23.7},{"p":"Bmi","q":60,"d":8,"v":12},{"p":"Bmi","q":60,"d":16,"v":4.6},{"p":"Bmi","q":60,"d":32,"v":1.5},{"p":"Bmi","q":60,"d":64,"v":0.4},
{"p":"Bmi","q":70,"d":1,"v":85},{"p":"Bmi","q":70,"d":2,"v":59.9},{"p":"Bmi","q":70,"d":4,"v":25.7},{"p":"Bmi","q":70,"d":8,"v":12.5},{"p":"Bmi","q":70,"d":16,"v":4.6},{"p":"Bmi","q":70,"d":32,"v":1.5},{"p":"Bmi","q":70,"d":64,"v":0.4},
{"p":"Bmi","q":80,"d":1,"v":94.5},{"p":"Bmi","q":80,"d":2,"v":77.9},{"p":"Bmi","q":80,"d":4,"v":38.7},{"p":"Bmi","q":80,"d":8,"v":13.5},{"p":"Bmi","q":80,"d":16,"v":4.6},{"p":"Bmi","q":80,"d":32,"v":1.5},{"p":"Bmi","q":80,"d":64,"v":0.4},
{"p":"Bmi","q":90,"d":1,"v":95},{"p":"Bmi","q":90,"d":2,"v":79.4},{"p":"Bmi","q":90,"d":4,"v":40.2},{"p":"Bmi","q":90,"d":8,"v":14},{"p":"Bmi","q":90,"d":16,"v":4.6},{"p":"Bmi","q":90,"d":32,"v":1.5},{"p":"Bmi","q":90,"d":64,"v":0.4},
{"p":"Bmi","q":100,"d":1,"v":95.7},{"p":"Bmi","q":100,"d":2,"v":80.9},{"p":"Bmi","q":100,"d":4,"v":42.2},{"p":"Bmi","q":100,"d":8,"v":14.5},{"p":"Bmi","q":100,"d":16,"v":4.6},{"p":"Bmi","q":100,"d":32,"v":1.5},{"p":"Bmi","q":100,"d":64,"v":0.4}
]},
"vconcat":[
{"title":{"text":"A","anchor":"start","fontSize":34,"offset":-38,"dx":-9},
 "resolve":{"scale":{"color":"independent","stroke":"independent"},"legend":{"color":"independent","stroke":"independent"}},
 "vconcat":[{"title":{"text":"When providing sequencing data of the full tetrad (a, b, c, d)","anchor":"middle","fontSize":27.5,"offset":14,"dx":-56},
  "resolve":{"scale":{"color":"independent","stroke":"independent"},"legend":{"color":"independent","stroke":"independent"}},
  "spacing":12,
  "hconcat":[
   {"title":{"text":"correct genotype (%)","anchor":"middle","fontSize":27,"offset":10,"dx":38},"spacing":0,
    "resolve":{"scale":{"color":"independent","stroke":"independent"},"legend":{"color":"independent","stroke":"independent"}},
    "vconcat":[
     {"data":{"values":[{"f":"raw"},{"f":"inferred"}]},"facet":{"column":{"field":"f","type":"nominal","sort":["raw","inferred"],"header":null}},"spacing":12,"spec":{"width":173,"height":34,"view":{"fill":"#D9D9D9","stroke":"#333333","strokeWidth":1.2},"mark":{"type":"text","fontSize":17,"color":"#1A1A1A"},"encoding":{"text":{"field":"f","type":"nominal"}}}},
     {"data":{"name":"pts"},"transform":[{"filter":{"field":"p","oneOf":["Acr","Aci"]}}],"facet":{"column":{"field":"p","type":"nominal","sort":["Acr","Aci"],"title":"sequencing depth","header":{"labels":false,"titleOrient":"bottom","titleFontSize":22,"titleColor":"#000000","titleFontWeight":"normal","titlePadding":-2}}},"spacing":12,
      "spec":{"width":173,"height":237,"view":{"stroke":"#333333","strokeWidth":1.2,"fill":"#FFFFFF"},
       "encoding":{"x":{"field":"d","type":"ordinal","sort":[1,2,4,8,16,32,64],"scale":{"type":"point","padding":0.6},"axis":{"title":null,"labelAngle":-45,"labelExpr":"datum.label + 'X'","grid":true,"gridWidth":1.4,"labelPadding":2}},
        "y":{"field":"v","type":"quantitative","scale":{"domain":[-5,105],"nice":false,"zero":false},"axis":{"title":null,"values":[0,12.5,25,37.5,50,62.5,75,87.5,100],"labelExpr":"datum.value % 25 === 0 ? datum.label : ''","grid":true,"gridWidth":{"condition":{"test":"datum.value % 25 === 0","value":1.5},"value":0.8},"tickOpacity":{"condition":{"test":"datum.value % 25 === 0","value":1},"value":0},"labelPadding":3}},
        "color":{"field":"q","type":"ordinal","scale":{"domain":[10,20,30,40,50,60,70,80,90,100],"range":["#5E4FA2","#3288BD","#66C2A5","#ABDDA4","#E6F598","#FEE08B","#FDAE61","#F46D43","#D53E4F","#9E0142"]},"legend":null}},
       "layer":[{"mark":{"type":"line","strokeWidth":1.3},"encoding":{}},{"mark":{"type":"point","shape":"diamond","filled":true,"size":60,"opacity":1},"encoding":{}}]}}
    ]},
   {"title":{"text":"incorrect genotype (%)","anchor":"middle","fontSize":27,"offset":10,"dx":33},"spacing":0,
    "resolve":{"scale":{"color":"independent","stroke":"independent"},"legend":{"color":"independent","stroke":"independent"}},
    "vconcat":[
     {"data":{"values":[{"f":"raw"},{"f":"inferred"}]},"facet":{"column":{"field":"f","type":"nominal","sort":["raw","inferred"],"header":null}},"spacing":12,"spec":{"width":173,"height":34,"view":{"fill":"#D9D9D9","stroke":"#333333","strokeWidth":1.2},"mark":{"type":"text","fontSize":17,"color":"#1A1A1A"},"encoding":{"text":{"field":"f","type":"nominal"}}}},
     {"data":{"name":"pts"},"transform":[{"filter":{"field":"p","oneOf":["Air","Aii"]}}],"facet":{"column":{"field":"p","type":"nominal","sort":["Air","Aii"],"title":"sequencing depth","header":{"labels":false,"titleOrient":"bottom","titleFontSize":22,"titleColor":"#000000","titleFontWeight":"normal","titlePadding":-2}}},"spacing":12,
      "spec":{"width":173,"height":237,"view":{"stroke":"#333333","strokeWidth":1.2,"fill":"#FFFFFF"},
       "encoding":{"x":{"field":"d","type":"ordinal","sort":[1,2,4,8,16,32,64],"scale":{"type":"point","padding":0.6},"axis":{"title":null,"labelAngle":-45,"labelExpr":"datum.label + 'X'","grid":true,"gridWidth":1.4,"labelPadding":2}},
        "y":{"field":"v","type":"quantitative","scale":{"domain":[-5,105],"nice":false,"zero":false},"axis":{"title":null,"values":[0,12.5,25,37.5,50,62.5,75,87.5,100],"labelExpr":"datum.value % 25 === 0 ? datum.label : ''","grid":true,"gridWidth":{"condition":{"test":"datum.value % 25 === 0","value":1.5},"value":0.8},"tickOpacity":{"condition":{"test":"datum.value % 25 === 0","value":1},"value":0},"labelPadding":3}},
        "color":{"field":"q","type":"ordinal","scale":{"domain":[10,20,30,40,50,60,70,80,90,100],"range":["#5E4FA2","#3288BD","#66C2A5","#ABDDA4","#E6F598","#FEE08B","#FDAE61","#F46D43","#D53E4F","#9E0142"]},"legend":null}},
       "layer":[{"mark":{"type":"line","strokeWidth":1.3},"encoding":{}},{"mark":{"type":"point","shape":"diamond","filled":true,"size":60,"opacity":1},"encoding":{}}]}}
    ]},
   {"title":{"text":"missing genotype (%)","anchor":"middle","fontSize":27,"offset":10,"dx":-25},"spacing":0,
    "resolve":{"scale":{"color":"independent","stroke":"independent"},"legend":{"color":"independent","stroke":"independent"}},
    "vconcat":[
     {"data":{"values":[{"f":"raw"},{"f":"inferred"}]},"facet":{"column":{"field":"f","type":"nominal","sort":["raw","inferred"],"header":null}},"spacing":12,"spec":{"width":173,"height":34,"view":{"fill":"#D9D9D9","stroke":"#333333","strokeWidth":1.2},"mark":{"type":"text","fontSize":17,"color":"#1A1A1A"},"encoding":{"text":{"field":"f","type":"nominal"}}}},
     {"data":{"name":"pts"},"transform":[{"filter":{"field":"p","oneOf":["Amr","Ami"]}}],"facet":{"column":{"field":"p","type":"nominal","sort":["Amr","Ami"],"title":"sequencing depth","header":{"labels":false,"titleOrient":"bottom","titleFontSize":22,"titleColor":"#000000","titleFontWeight":"normal","titlePadding":-2}}},"spacing":12,
      "spec":{"width":173,"height":237,"view":{"stroke":"#333333","strokeWidth":1.2,"fill":"#FFFFFF"},
       "encoding":{"x":{"field":"d","type":"ordinal","sort":[1,2,4,8,16,32,64],"scale":{"type":"point","padding":0.6},"axis":{"title":null,"labelAngle":-45,"labelExpr":"datum.label + 'X'","grid":true,"gridWidth":1.4,"labelPadding":2}},
        "y":{"field":"v","type":"quantitative","scale":{"domain":[-5,105],"nice":false,"zero":false},"axis":{"title":null,"values":[0,12.5,25,37.5,50,62.5,75,87.5,100],"labelExpr":"datum.value % 25 === 0 ? datum.label : ''","grid":true,"gridWidth":{"condition":{"test":"datum.value % 25 === 0","value":1.5},"value":0.8},"tickOpacity":{"condition":{"test":"datum.value % 25 === 0","value":1},"value":0},"labelPadding":3}},
        "color":{"field":"q","type":"ordinal","scale":{"domain":[10,20,30,40,50,60,70,80,90,100],"range":["#5E4FA2","#3288BD","#66C2A5","#ABDDA4","#E6F598","#FEE08B","#FDAE61","#F46D43","#D53E4F","#9E0142"]},"legend":{"title":"Qₙₑₜ cutoff","symbolType":"M-1,0H1M-0.45,0L0,-0.45L0.45,0L0,0.45Z","symbolSize":169,"symbolStrokeWidth":1.4,"symbolOffset":22,"titleFontSize":23,"titleColor":"#000000","labelFontSize":15.5,"labelColor":"#000000","titlePadding":19,"rowPadding":-0.5,"padding":9,"offset":0,"labelOffset":8}}},
       "layer":[{"mark":{"type":"line","strokeWidth":1.3},"encoding":{}},{"mark":{"type":"point","shape":"diamond","filled":true,"size":60,"opacity":1},"encoding":{"stroke":{"field":"q","type":"ordinal","scale":{"domain":[10,20,30,40,50,60,70,80,90,100],"range":["#5E4FA2","#3288BD","#66C2A5","#ABDDA4","#E6F598","#FEE08B","#FDAE61","#F46D43","#D53E4F","#9E0142"]},"legend":{"title":"Qₙₑₜ cutoff","symbolType":"M-1,0H1M-0.45,0L0,-0.45L0.45,0L0,0.45Z","symbolSize":169,"symbolStrokeWidth":1.4,"symbolOffset":22,"titleFontSize":23,"titleColor":"#000000","labelFontSize":15.5,"labelColor":"#000000","titlePadding":19,"rowPadding":-0.5,"padding":9,"offset":0,"labelOffset":8}}}}]}}
    ]}
  ]}]},
{"title":{"text":"B","anchor":"start","fontSize":34,"offset":-33,"dx":-9},
 "resolve":{"scale":{"color":"independent","stroke":"independent"},"legend":{"color":"independent","stroke":"independent"}},
 "vconcat":[{"title":{"text":"X","color":"#EE1C24","fontSize":48,"fontWeight":"bold","anchor":"middle","offset":-40,"dx":252},
  "resolve":{"scale":{"color":"independent","stroke":"independent"},"legend":{"color":"independent","stroke":"independent"}},
  "vconcat":[{"title":{"text":"When providing the sequencing data of only 3 gametes (a, b, c, d)","anchor":"middle","fontSize":27.5,"offset":28,"dx":-44},
  "resolve":{"scale":{"color":"independent","stroke":"independent"},"legend":{"color":"independent","stroke":"independent"}},
  "spacing":12,
  "hconcat":[
   {"title":{"text":"correct genotype (%)","anchor":"middle","fontSize":27,"offset":10,"dx":38},"spacing":0,
    "resolve":{"scale":{"color":"independent","stroke":"independent"},"legend":{"color":"independent","stroke":"independent"}},
    "vconcat":[
     {"data":{"values":[{"f":"raw"},{"f":"inferred"}]},"facet":{"column":{"field":"f","type":"nominal","sort":["raw","inferred"],"header":null}},"spacing":12,"spec":{"width":173,"height":34,"view":{"fill":"#D9D9D9","stroke":"#333333","strokeWidth":1.2},"mark":{"type":"text","fontSize":17,"color":"#1A1A1A"},"encoding":{"text":{"field":"f","type":"nominal"}}}},
     {"data":{"name":"pts"},"transform":[{"filter":{"field":"p","oneOf":["Bcr","Bci"]}}],"facet":{"column":{"field":"p","type":"nominal","sort":["Bcr","Bci"],"title":"sequencing depth","header":{"labels":false,"titleOrient":"bottom","titleFontSize":22,"titleColor":"#000000","titleFontWeight":"normal","titlePadding":-2}}},"spacing":12,
      "spec":{"width":173,"height":237,"view":{"stroke":"#333333","strokeWidth":1.2,"fill":"#FFFFFF"},
       "encoding":{"x":{"field":"d","type":"ordinal","sort":[1,2,4,8,16,32,64],"scale":{"type":"point","padding":0.6},"axis":{"title":null,"labelAngle":-45,"labelExpr":"datum.label + 'X'","grid":true,"gridWidth":1.4,"labelPadding":2}},
        "y":{"field":"v","type":"quantitative","scale":{"domain":[-5,105],"nice":false,"zero":false},"axis":{"title":null,"values":[0,12.5,25,37.5,50,62.5,75,87.5,100],"labelExpr":"datum.value % 25 === 0 ? datum.label : ''","grid":true,"gridWidth":{"condition":{"test":"datum.value % 25 === 0","value":1.5},"value":0.8},"tickOpacity":{"condition":{"test":"datum.value % 25 === 0","value":1},"value":0},"labelPadding":3}},
        "color":{"field":"q","type":"ordinal","scale":{"domain":[10,20,30,40,50,60,70,80,90,100],"range":["#5E4FA2","#3288BD","#66C2A5","#ABDDA4","#E6F598","#FEE08B","#FDAE61","#F46D43","#D53E4F","#9E0142"]},"legend":null}},
       "layer":[{"mark":{"type":"line","strokeWidth":1.3},"encoding":{}},{"mark":{"type":"point","shape":"diamond","filled":true,"size":60,"opacity":1},"encoding":{}}]}}
    ]},
   {"title":{"text":"incorrect genotype (%)","anchor":"middle","fontSize":27,"offset":10,"dx":33},"spacing":0,
    "resolve":{"scale":{"color":"independent","stroke":"independent"},"legend":{"color":"independent","stroke":"independent"}},
    "vconcat":[
     {"data":{"values":[{"f":"raw"},{"f":"inferred"}]},"facet":{"column":{"field":"f","type":"nominal","sort":["raw","inferred"],"header":null}},"spacing":12,"spec":{"width":173,"height":34,"view":{"fill":"#D9D9D9","stroke":"#333333","strokeWidth":1.2},"mark":{"type":"text","fontSize":17,"color":"#1A1A1A"},"encoding":{"text":{"field":"f","type":"nominal"}}}},
     {"data":{"name":"pts"},"transform":[{"filter":{"field":"p","oneOf":["Bir","Bii"]}}],"facet":{"column":{"field":"p","type":"nominal","sort":["Bir","Bii"],"title":"sequencing depth","header":{"labels":false,"titleOrient":"bottom","titleFontSize":22,"titleColor":"#000000","titleFontWeight":"normal","titlePadding":-2}}},"spacing":12,
      "spec":{"width":173,"height":237,"view":{"stroke":"#333333","strokeWidth":1.2,"fill":"#FFFFFF"},
       "encoding":{"x":{"field":"d","type":"ordinal","sort":[1,2,4,8,16,32,64],"scale":{"type":"point","padding":0.6},"axis":{"title":null,"labelAngle":-45,"labelExpr":"datum.label + 'X'","grid":true,"gridWidth":1.4,"labelPadding":2}},
        "y":{"field":"v","type":"quantitative","scale":{"domain":[-5,105],"nice":false,"zero":false},"axis":{"title":null,"values":[0,12.5,25,37.5,50,62.5,75,87.5,100],"labelExpr":"datum.value % 25 === 0 ? datum.label : ''","grid":true,"gridWidth":{"condition":{"test":"datum.value % 25 === 0","value":1.5},"value":0.8},"tickOpacity":{"condition":{"test":"datum.value % 25 === 0","value":1},"value":0},"labelPadding":3}},
        "color":{"field":"q","type":"ordinal","scale":{"domain":[10,20,30,40,50,60,70,80,90,100],"range":["#5E4FA2","#3288BD","#66C2A5","#ABDDA4","#E6F598","#FEE08B","#FDAE61","#F46D43","#D53E4F","#9E0142"]},"legend":null}},
       "layer":[{"mark":{"type":"line","strokeWidth":1.3},"encoding":{}},{"mark":{"type":"point","shape":"diamond","filled":true,"size":60,"opacity":1},"encoding":{}}]}}
    ]},
   {"title":{"text":"missing genotype (%)","anchor":"middle","fontSize":27,"offset":10,"dx":-25},"spacing":0,
    "resolve":{"scale":{"color":"independent","stroke":"independent"},"legend":{"color":"independent","stroke":"independent"}},
    "vconcat":[
     {"data":{"values":[{"f":"raw"},{"f":"inferred"}]},"facet":{"column":{"field":"f","type":"nominal","sort":["raw","inferred"],"header":null}},"spacing":12,"spec":{"width":173,"height":34,"view":{"fill":"#D9D9D9","stroke":"#333333","strokeWidth":1.2},"mark":{"type":"text","fontSize":17,"color":"#1A1A1A"},"encoding":{"text":{"field":"f","type":"nominal"}}}},
     {"data":{"name":"pts"},"transform":[{"filter":{"field":"p","oneOf":["Bmr","Bmi"]}}],"facet":{"column":{"field":"p","type":"nominal","sort":["Bmr","Bmi"],"title":"sequencing depth","header":{"labels":false,"titleOrient":"bottom","titleFontSize":22,"titleColor":"#000000","titleFontWeight":"normal","titlePadding":-2}}},"spacing":12,
      "spec":{"width":173,"height":237,"view":{"stroke":"#333333","strokeWidth":1.2,"fill":"#FFFFFF"},
       "encoding":{"x":{"field":"d","type":"ordinal","sort":[1,2,4,8,16,32,64],"scale":{"type":"point","padding":0.6},"axis":{"title":null,"labelAngle":-45,"labelExpr":"datum.label + 'X'","grid":true,"gridWidth":1.4,"labelPadding":2}},
        "y":{"field":"v","type":"quantitative","scale":{"domain":[-5,105],"nice":false,"zero":false},"axis":{"title":null,"values":[0,12.5,25,37.5,50,62.5,75,87.5,100],"labelExpr":"datum.value % 25 === 0 ? datum.label : ''","grid":true,"gridWidth":{"condition":{"test":"datum.value % 25 === 0","value":1.5},"value":0.8},"tickOpacity":{"condition":{"test":"datum.value % 25 === 0","value":1},"value":0},"labelPadding":3}},
        "color":{"field":"q","type":"ordinal","scale":{"domain":[10,20,30,40,50,60,70,80,90,100],"range":["#5E4FA2","#3288BD","#66C2A5","#ABDDA4","#E6F598","#FEE08B","#FDAE61","#F46D43","#D53E4F","#9E0142"]},"legend":{"title":"Qₙₑₜ cutoff","symbolType":"M-1,0H1M-0.45,0L0,-0.45L0.45,0L0,0.45Z","symbolSize":169,"symbolStrokeWidth":1.4,"symbolOffset":22,"titleFontSize":23,"titleColor":"#000000","labelFontSize":15.5,"labelColor":"#000000","titlePadding":19,"rowPadding":-0.5,"padding":9,"offset":0,"labelOffset":8}}},
       "layer":[{"mark":{"type":"line","strokeWidth":1.3},"encoding":{}},{"mark":{"type":"point","shape":"diamond","filled":true,"size":60,"opacity":1},"encoding":{"stroke":{"field":"q","type":"ordinal","scale":{"domain":[10,20,30,40,50,60,70,80,90,100],"range":["#5E4FA2","#3288BD","#66C2A5","#ABDDA4","#E6F598","#FEE08B","#FDAE61","#F46D43","#D53E4F","#9E0142"]},"legend":{"title":"Qₙₑₜ cutoff","symbolType":"M-1,0H1M-0.45,0L0,-0.45L0.45,0L0,0.45Z","symbolSize":169,"symbolStrokeWidth":1.4,"symbolOffset":22,"titleFontSize":23,"titleColor":"#000000","labelFontSize":15.5,"labelColor":"#000000","titlePadding":19,"rowPadding":-0.5,"padding":9,"offset":0,"labelOffset":8}}}}]}}
    ]}
  ]}]}]}
]}
